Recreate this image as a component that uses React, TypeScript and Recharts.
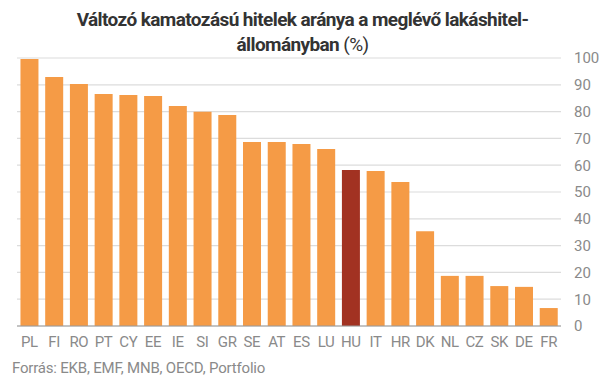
import { BarChart, Bar, XAxis, YAxis, CartesianGrid, Cell } from 'recharts';

const COUNTRIES = ['PL', 'FI', 'RO', 'PT', 'CY', 'EE', 'IE', 'SI', 'GR', 'SE', 'AT', 'ES', 'LU', 'HU', 'IT', 'HR', 'DK', 'NL', 'CZ', 'SK', 'DE', 'FR'];
const SHARES = [99.6, 92.9, 90.3, 86.6, 86.2, 85.8, 82.1, 79.9, 78.7, 68.7, 68.7, 67.9, 66.0, 58.2, 57.8, 53.7, 35.4, 18.7, 18.7, 14.9, 14.6, 6.7];
const Y_TICKS = [0, 10, 20, 30, 40, 50, 60, 70, 80, 90, 100];
const HIGHLIGHT = 'HU';

const ORANGE = '#f59b46';
const DARK_RED = '#a23222';
const GREY = '#8a8a8a';

const data = COUNTRIES.map((c, i) => ({ country: c, value: SHARES[i] }));

export default function App() {
  return (
    <div style={{ position: 'absolute', left: 0, top: 0, width: 605, height: 379, background: '#fff', fontFamily: 'Roboto, sans-serif' }}>
      {/* Title */}
      <div style={{ position: 'absolute', left: 0, top: 7, width: 605, textAlign: 'center', color: '#333', fontSize: 19, lineHeight: '25px', fontWeight: 700, letterSpacing: -0.6 }}>
        <div>Változó kamatozású hitelek aránya a meglévő lakáshitel-</div>
        <div>állományban <span style={{ fontWeight: 400 }}>(%)</span></div>
      </div>

      <div style={{ position: 'absolute', left: 0, top: 0 }}>
        <BarChart
          width={605}
          height={379}
          data={data}
          margin={{ top: 58, right: 4, left: 17, bottom: 23 }}
          barCategoryGap="14%"
        >
          <CartesianGrid vertical={false} stroke="#dcdcdc" strokeWidth={1.2} />
          <XAxis
            dataKey="country"
            height={30}
            tickLine={false}
            tickSize={0}
            tickMargin={10}
            axisLine={{ stroke: '#999', strokeWidth: 1.2 }}
            tick={{ fill: GREY, fontSize: 15, letterSpacing: -0.4 }}
            interval={0}
          />
          <YAxis
            orientation="right"
            width={40}
            domain={[0, 100]}
            ticks={Y_TICKS}
            axisLine={false}
            tickLine={false}
            tickSize={0}
            tickMargin={13}
            tick={{ fill: GREY, fontSize: 15 }}
          />
          <Bar dataKey="value" isAnimationActive={false}>
            {data.map((d) => (
              <Cell key={d.country} fill={d.country === HIGHLIGHT ? DARK_RED : ORANGE} />
            ))}
          </Bar>
        </BarChart>
      </div>

      {/* Source */}
      <div style={{ position: 'absolute', left: 12, top: 359, color: GREY, fontSize: 15, letterSpacing: -0.2 }}>
        Forrás: EKB, EMF, MNB, OECD, Portfolio
      </div>
    </div>
  );
}
